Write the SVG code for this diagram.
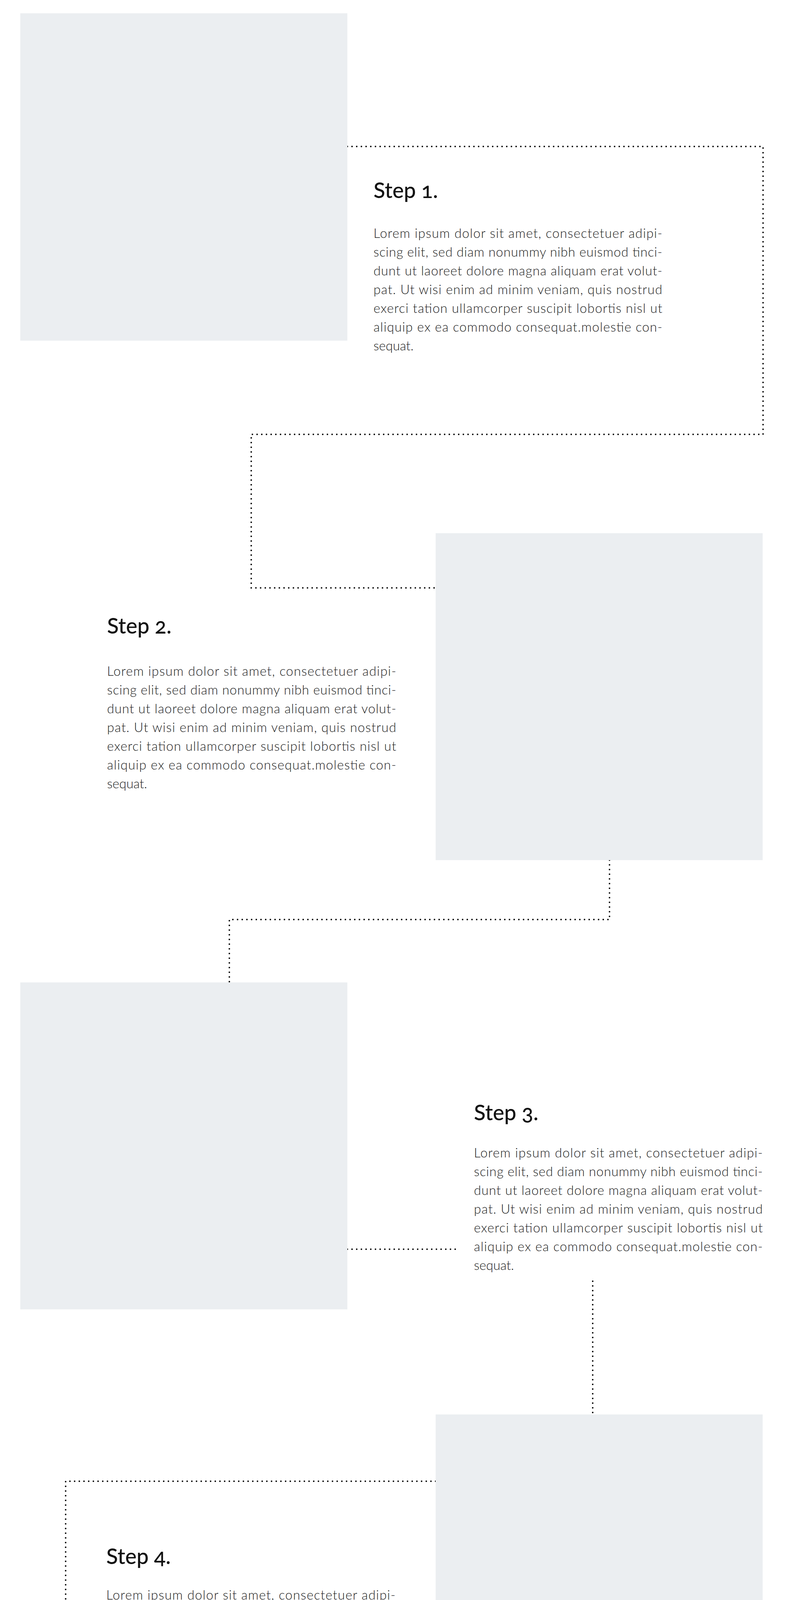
<svg xmlns="http://www.w3.org/2000/svg" width="2045" height="6713" viewBox="0 0 2045 6713">
<style>
.img{fill:#ebeef1}
.h{font-family:"Lato","Open Sans","Liberation Sans",sans-serif;font-size:55px;font-weight:500;fill:#111;font-feature-settings:"onum";font-variant-numeric:oldstyle-nums}
.b{font-family:"Lato","Open Sans","Liberation Sans",sans-serif;font-size:33px;font-weight:300;fill:#222}
.c{fill:none;stroke:#000;stroke-width:4;stroke-linecap:round;stroke-dasharray:0 12}
</style>
<rect width="2045" height="6713" fill="#fff"/>
<g id="connectors">
<path class="c" d="M889,375 H1953 V1112 H643 V1505 H1115"/>
<path class="c" d="M1560,2202 V2354 H587 V2515"/>
<path class="c" d="M889,3198 H1170"/>
<path class="c" d="M1517,3280 V3621"/>
<path class="c" d="M1115,3792 H168 V4740"/>
<path class="c" d="M889,4888 H1827 V5820"/>
<path class="c" d="M936,6210 H1115"/>
</g>
<g id="step1">
<rect class="img" x="52" y="34" width="837" height="838"/>
<text class="h" x="956" y="507">Step 1.</text>
<g class="b">
<text x="956" y="609" textLength="739" lengthAdjust="spacing">Lorem ipsum dolor sit amet, consectetuer adipi-</text>
<text x="956" y="657" textLength="739" lengthAdjust="spacing">scing elit, sed diam nonummy nibh euismod tinci-</text>
<text x="956" y="705" textLength="739" lengthAdjust="spacing">dunt ut laoreet dolore magna aliquam erat volut-</text>
<text x="956" y="753" textLength="739" lengthAdjust="spacing">pat. Ut wisi enim ad minim veniam, quis nostrud</text>
<text x="956" y="801" textLength="739" lengthAdjust="spacing">exerci tation ullamcorper suscipit lobortis nisl ut</text>
<text x="956" y="849" textLength="739" lengthAdjust="spacing">aliquip ex ea commodo consequat.molestie con-</text>
<text x="956" y="897">sequat.</text>
</g>
</g>
<g id="step2">
<rect class="img" x="1115" y="1365" width="837" height="837"/>
<text class="h" x="274" y="1622">Step 2.</text>
<g class="b">
<text x="274" y="1730" textLength="740" lengthAdjust="spacing">Lorem ipsum dolor sit amet, consectetuer adipi-</text>
<text x="274" y="1778" textLength="740" lengthAdjust="spacing">scing elit, sed diam nonummy nibh euismod tinci-</text>
<text x="274" y="1826" textLength="740" lengthAdjust="spacing">dunt ut laoreet dolore magna aliquam erat volut-</text>
<text x="274" y="1874" textLength="740" lengthAdjust="spacing">pat. Ut wisi enim ad minim veniam, quis nostrud</text>
<text x="274" y="1922" textLength="740" lengthAdjust="spacing">exerci tation ullamcorper suscipit lobortis nisl ut</text>
<text x="274" y="1970" textLength="740" lengthAdjust="spacing">aliquip ex ea commodo consequat.molestie con-</text>
<text x="274" y="2018">sequat.</text>
</g>
</g>
<g id="step3">
<rect class="img" x="52" y="2515" width="837" height="837"/>
<text class="h" x="1213" y="2868">Step 3.</text>
<g class="b">
<text x="1213" y="2963" textLength="739" lengthAdjust="spacing">Lorem ipsum dolor sit amet, consectetuer adipi-</text>
<text x="1213" y="3011" textLength="739" lengthAdjust="spacing">scing elit, sed diam nonummy nibh euismod tinci-</text>
<text x="1213" y="3059" textLength="739" lengthAdjust="spacing">dunt ut laoreet dolore magna aliquam erat volut-</text>
<text x="1213" y="3107" textLength="739" lengthAdjust="spacing">pat. Ut wisi enim ad minim veniam, quis nostrud</text>
<text x="1213" y="3155" textLength="739" lengthAdjust="spacing">exerci tation ullamcorper suscipit lobortis nisl ut</text>
<text x="1213" y="3203" textLength="739" lengthAdjust="spacing">aliquip ex ea commodo consequat.molestie con-</text>
<text x="1213" y="3251">sequat.</text>
</g>
</g>
<g id="step4">
<rect class="img" x="1115" y="3621" width="837" height="837"/>
<text class="h" x="272" y="4004">Step 4.</text>
<g class="b">
<text x="272" y="4095" textLength="740" lengthAdjust="spacing">Lorem ipsum dolor sit amet, consectetuer adipi-</text>
<text x="272" y="4143" textLength="740" lengthAdjust="spacing">scing elit, sed diam nonummy nibh euismod tinci-</text>
<text x="272" y="4191" textLength="740" lengthAdjust="spacing">dunt ut laoreet dolore magna aliquam erat volut-</text>
<text x="272" y="4239" textLength="740" lengthAdjust="spacing">pat. Ut wisi enim ad minim veniam, quis nostrud</text>
<text x="272" y="4287" textLength="740" lengthAdjust="spacing">exerci tation ullamcorper suscipit lobortis nisl ut</text>
<text x="272" y="4335" textLength="740" lengthAdjust="spacing">aliquip ex ea commodo consequat.molestie con-</text>
<text x="272" y="4383">sequat.</text>
</g>
</g>
<g id="step5">
<rect class="img" x="52" y="4740" width="837" height="837"/>
<text class="h" x="1011" y="5160">Step 5.</text>
<g class="b">
<text x="1011" y="5267" textLength="739" lengthAdjust="spacing">Lorem ipsum dolor sit amet, consectetuer adipi-</text>
<text x="1011" y="5315" textLength="739" lengthAdjust="spacing">scing elit, sed diam nonummy nibh euismod tinci-</text>
<text x="1011" y="5363" textLength="739" lengthAdjust="spacing">dunt ut laoreet dolore magna aliquam erat volut-</text>
<text x="1011" y="5411" textLength="739" lengthAdjust="spacing">pat. Ut wisi enim ad minim veniam, quis nostrud</text>
<text x="1011" y="5459" textLength="739" lengthAdjust="spacing">exerci tation ullamcorper suscipit lobortis nisl ut</text>
<text x="1011" y="5507" textLength="739" lengthAdjust="spacing">aliquip ex ea commodo consequat.molestie con-</text>
<text x="1011" y="5555">sequat.</text>
</g>
</g>
<g id="step6">
<rect class="img" x="1115" y="5820" width="837" height="837"/>
<text class="h" x="164" y="5985">Step 6.</text>
<g class="b">
<text x="164" y="6077" textLength="740" lengthAdjust="spacing">Lorem ipsum dolor sit amet, consectetuer adipi-</text>
<text x="164" y="6125" textLength="740" lengthAdjust="spacing">scing elit, sed diam nonummy nibh euismod tinci-</text>
<text x="164" y="6173" textLength="740" lengthAdjust="spacing">dunt ut laoreet dolore magna aliquam erat volut-</text>
<text x="164" y="6221" textLength="740" lengthAdjust="spacing">pat. Ut wisi enim ad minim veniam, quis nostrud</text>
<text x="164" y="6269" textLength="740" lengthAdjust="spacing">exerci tation ullamcorper suscipit lobortis nisl ut</text>
<text x="164" y="6317" textLength="740" lengthAdjust="spacing">aliquip ex ea commodo consequat.molestie con-</text>
<text x="164" y="6365">sequat.</text>
</g>
</g>
</svg>
